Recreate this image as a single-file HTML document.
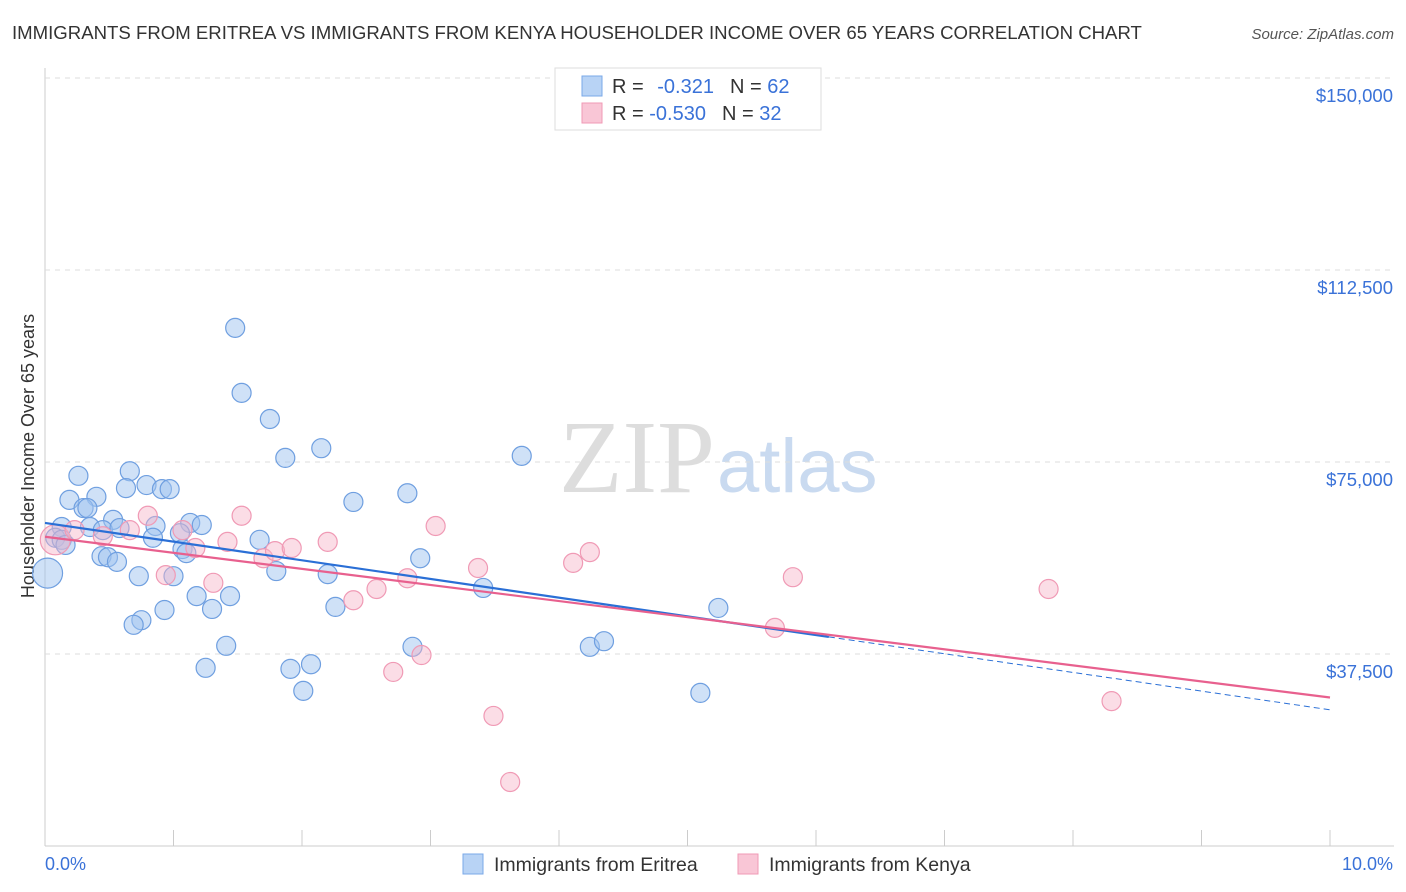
<!DOCTYPE html>
<html><head><meta charset="utf-8"><style>
body{margin:0;background:#fff;font-family:"Liberation Sans",sans-serif}
svg{display:block}
</style></head><body>
<svg id="c" width="1406" height="892">
<text x="12" y="39" font-size="18.6" fill="#333">IMMIGRANTS FROM ERITREA VS IMMIGRANTS FROM KENYA HOUSEHOLDER INCOME OVER 65 YEARS CORRELATION CHART</text>
<text x="1394" y="39" font-size="15" fill="#555" text-anchor="end" font-style="italic">Source: ZipAtlas.com</text>
<text x="715" y="492" font-size="104" fill="#ddd" text-anchor="end" font-family="Liberation Serif">ZIP</text>
<text x="717" y="492" font-size="76" fill="#c9daf0">atlas</text>
<text transform="translate(34,456) rotate(-90)" font-size="18" fill="#333" text-anchor="middle">Householder Income Over 65 years</text>
<g id="grid"></g><g id="pts"></g><g id="trend"></g>
<g>
<rect x="555" y="68" width="266" height="62" fill="#fff" stroke="#ddd"/>
<rect x="582" y="76" width="20" height="20" fill="#b8d3f5" stroke="#7aa8e8"/>
<rect x="582" y="103" width="20" height="20" fill="#f9c6d6" stroke="#f09ab5"/>
<text x="612" y="93" font-size="20" fill="#333">R = <tspan fill="#3a72d8" dx="8">-0.321</tspan><tspan dx="16" fill="#333">N = </tspan><tspan fill="#3a72d8">62</tspan></text>
<text x="612" y="120" font-size="20" fill="#333">R = <tspan fill="#3a72d8">-0.530</tspan><tspan dx="16" fill="#333">N = </tspan><tspan fill="#3a72d8">32</tspan></text>
</g>
<g>
<rect x="463" y="854" width="20" height="20" fill="#b8d3f5" stroke="#7aa8e8"/>
<text x="494" y="871" font-size="19.5" fill="#333">Immigrants from Eritrea</text>
<rect x="738" y="854" width="20" height="20" fill="#f9c6d6" stroke="#f09ab5"/>
<text x="769" y="871" font-size="19.5" fill="#333">Immigrants from Kenya</text>
</g>
<text x="45" y="870" font-size="18" fill="#3a72d8">0.0%</text>
<text x="1393" y="870" font-size="18" fill="#3a72d8" text-anchor="end">10.0%</text>
</svg>
<script>
const yTicks=[37500,75000,112500,150000];
const yTickLabels=["$37,500","$75,000","$112,500","$150,000"];
const eritreaX=[1.48,1.53,1.75,2.15,1.87,3.71,0.26,0.66,0.79,0.63,0.91,0.97,0.40,0.19,2.40,2.82,0.30,0.33,0.53,0.13,0.35,0.45,0.58,0.86,1.13,1.22,1.05,0.84,1.67,0.08,0.13,0.16,1.07,1.10,0.44,0.49,0.56,2.92,1.80,2.20,0.73,1.00,0.02,3.41,1.18,1.44,0.93,1.30,2.26,5.24,0.75,0.69,1.41,2.86,4.24,4.35,1.25,1.91,2.07,2.01,5.10];
const eritreaY=[101200,88500,83400,77700,75800,76200,72300,73200,70500,69900,69700,69700,68200,67600,67200,68900,66000,66000,63700,62300,62300,61700,62100,62500,63100,62700,61100,60200,59800,60200,59800,58800,58000,57200,56600,56400,55500,56200,53700,53100,52700,52700,53300,50400,48800,48800,46100,46300,46700,46500,44100,43200,39100,38900,38900,40000,34800,34600,35500,30300,29900];
const kenyaX=[0.08,0.23,0.45,0.66,0.80,1.07,1.17,1.42,1.53,0.94,1.31,1.70,1.79,1.92,2.20,2.40,2.58,2.71,2.82,2.93,3.04,3.37,3.49,3.62,4.11,4.24,5.68,5.82,7.81,8.30];
const kenyaY=[59800,61700,60500,61700,64500,61700,58200,59400,64500,52900,51400,56200,57600,58200,59400,48000,50200,34000,52300,37300,62500,54300,25400,12500,55300,57400,42600,52500,50200,28300];
const eritreaTrend=[63100,26600];
const kenyaTrend=[60400,29000];
const X=v=>45+v*128.5, Y=v=>846-v*0.00512;
const NS="http://www.w3.org/2000/svg";
function mk(t,a,p){const e=document.createElementNS(NS,t);for(const k in a)e.setAttribute(k,a[k]);p.appendChild(e);return e;}
const g=document.getElementById('grid');
mk('line',{x1:45,y1:68,x2:45,y2:846,stroke:'#ccc'},g);
mk('line',{x1:45,y1:846,x2:1394,y2:846,stroke:'#ccc'},g);
for(let i=1;i<=10;i++){const l=mk('line',{x1:X(i),y1:830,x2:X(i),y2:846,stroke:'#ccc'},g);}
yTicks.forEach((t,i)=>{const l=mk('line',{x1:45,y1:Y(t),x2:1394,y2:Y(t),stroke:'#ddd','stroke-dasharray':'5,5'},g);
const tx=mk('text',{x:1393,y:Y(t)+24,'font-size':18.5,fill:'#3a72d8','text-anchor':'end'},g);tx.textContent=yTickLabels[i];});
const p=document.getElementById('pts');
eritreaX.forEach((x,i)=>{const r=(i==42)?15:9.5;const c=mk('circle',{cx:X(x),cy:Y(eritreaY[i]),r:r,fill:'rgba(160,196,240,0.5)',stroke:'#6f9fe0','stroke-width':1.2},p);});
kenyaX.forEach((x,i)=>{const r=(i==0)?15:9.5;const c=mk('circle',{cx:X(x),cy:Y(kenyaY[i]),r:r,fill:'rgba(247,180,200,0.45)',stroke:'#f09ab5','stroke-width':1.2},p);});
const tr=document.getElementById('trend');
const by=x=>eritreaTrend[0]+(eritreaTrend[1]-eritreaTrend[0])*x/10;
let l1=mk('line',{x1:X(0),y1:Y(by(0)),x2:X(6.1),y2:Y(by(6.1)),stroke:'#2a6fd6','stroke-width':2.2},tr);

let l2=mk('line',{x1:X(6.1),y1:Y(by(6.1)),x2:X(10),y2:Y(by(10)),stroke:'#2a6fd6','stroke-width':1,'stroke-dasharray':'6,4'},tr);

let l3=mk('line',{x1:X(0),y1:Y(kenyaTrend[0]),x2:X(10),y2:Y(kenyaTrend[1]),stroke:'#e8608e','stroke-width':2.2},tr);

</script>
</body></html>
